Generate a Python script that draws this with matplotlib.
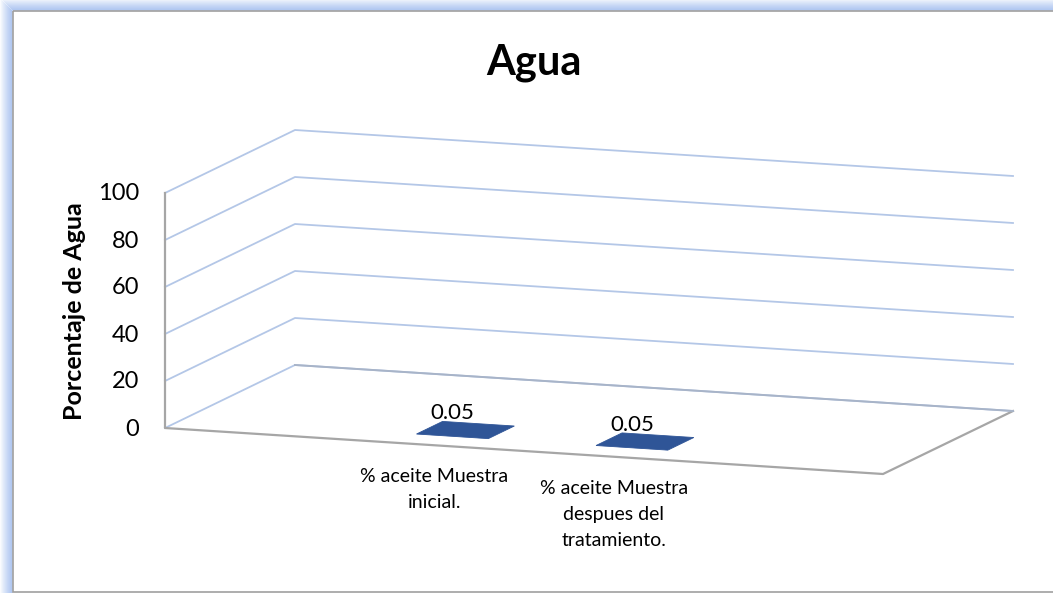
import matplotlib.pyplot as plt
from matplotlib.patches import Rectangle

plt.rcParams['font.family'] = ['Lato', 'DejaVu Sans']

# chart data
categories = ["", "% aceite Muestra\ninicial.", "% aceite Muestra\ndespues del\ntratamiento.", ""]
values = [None, 0.05, 0.05, None]
yticks = [0, 20, 40, 60, 80, 100]
title = "Agua"
ylabel = "Porcentaje de Agua"

# oblique 3d projection (pixel space of the figure)
ORIGIN = (165, 428)
FRONT = (718, 46)      # full category run along the floor front edge
DEPTH = (130, -63)     # floor depth
UNIT = 2.35            # pixels per value unit
nslots = len(categories)


def project(c, v, d):
    x = ORIGIN[0] + c / nslots * FRONT[0] + d * DEPTH[0]
    y = ORIGIN[1] + c / nslots * FRONT[1] + d * DEPTH[1] - v * UNIT
    return x, y


fig = plt.figure(figsize=(10.53, 5.93), dpi=100)
ax = fig.add_axes([0, 0, 1, 1])
ax.set_xlim(0, 1053)
ax.set_ylim(593, 0)
ax.axis("off")

# chart area border with soft blue glow
for k in range(12):
    a = 0.55 * (1 - k / 12)
    ax.add_patch(Rectangle((12 - k, 10 - k), 1100, 700, fill=False,
                           edgecolor="#8FB0EC", lw=1.2, alpha=a))
ax.add_patch(Rectangle((13, 10.5), 1100, 581, fill=False, edgecolor="#A0A0A0", lw=1.2))

grid_col = "#B4C7E7"
edge_col = "#A6A6A6"

# walls: gridlines on the back and left wall
for v in yticks:
    p0 = project(0, v, 0)
    p1 = project(0, v, 1)
    p2 = project(nslots, v, 1)
    ax.plot([p0[0], p1[0], p2[0]], [p0[1], p1[1], p2[1]], color=grid_col, lw=1.3)
    ax.text(p0[0] - 26, p0[1] + 1, str(v), ha="right", va="center", fontsize=17, color="#000000")

# floor edges and the vertical axis line
a = project(0, 0, 0)
b = project(nslots, 0, 0)
c = project(nslots, 0, 1)
top = project(0, yticks[-1], 0)
ax.plot([top[0], a[0], b[0], c[0]], [top[1], a[1], b[1], c[1]], color=edge_col, lw=1.6)
back = project(0, 0, 1)
ax.plot([back[0], c[0]], [back[1], c[1]], color="#A8B4C8", lw=1.4)

# columns
bw = 0.4
d0, d1 = 0.14, 0.34
for i, val in enumerate(values):
    if val is None:
        continue
    c0 = i + 0.5 - bw / 2
    c1 = i + 0.5 + bw / 2
    front = [project(c0, 0, d0), project(c1, 0, d0), project(c1, val, d0), project(c0, val, d0)]
    topf = [project(c0, val, d0), project(c1, val, d0), project(c1, val, d1), project(c0, val, d1)]
    ax.fill([p[0] for p in front], [p[1] for p in front], color="#4472C4", lw=0)
    ax.fill([p[0] for p in topf], [p[1] for p in topf], color="#2F5597", lw=0.6,
            edgecolor="#2F5597")
    lx, ly = project(i + 0.5, val, d0)
    ax.text(lx, ly - 13, f"{val:g}", ha="center", va="bottom", fontsize=16, color="#000000")

# category labels under the front edge
for i, lab in enumerate(categories):
    if not lab:
        continue
    x, y = project(i + 0.5, 0, 0)
    ax.text(x, y + 23, lab, ha="center", va="top", fontsize=14, color="#000000",
            linespacing=1.65)

ax.text(534, 63, title, ha="center", va="center", fontsize=30, fontweight="bold")
ax.text(75, 311, ylabel, ha="center", va="center", rotation=90, fontsize=18,
        fontweight="bold")

fig.savefig("out.png", dpi=100)
